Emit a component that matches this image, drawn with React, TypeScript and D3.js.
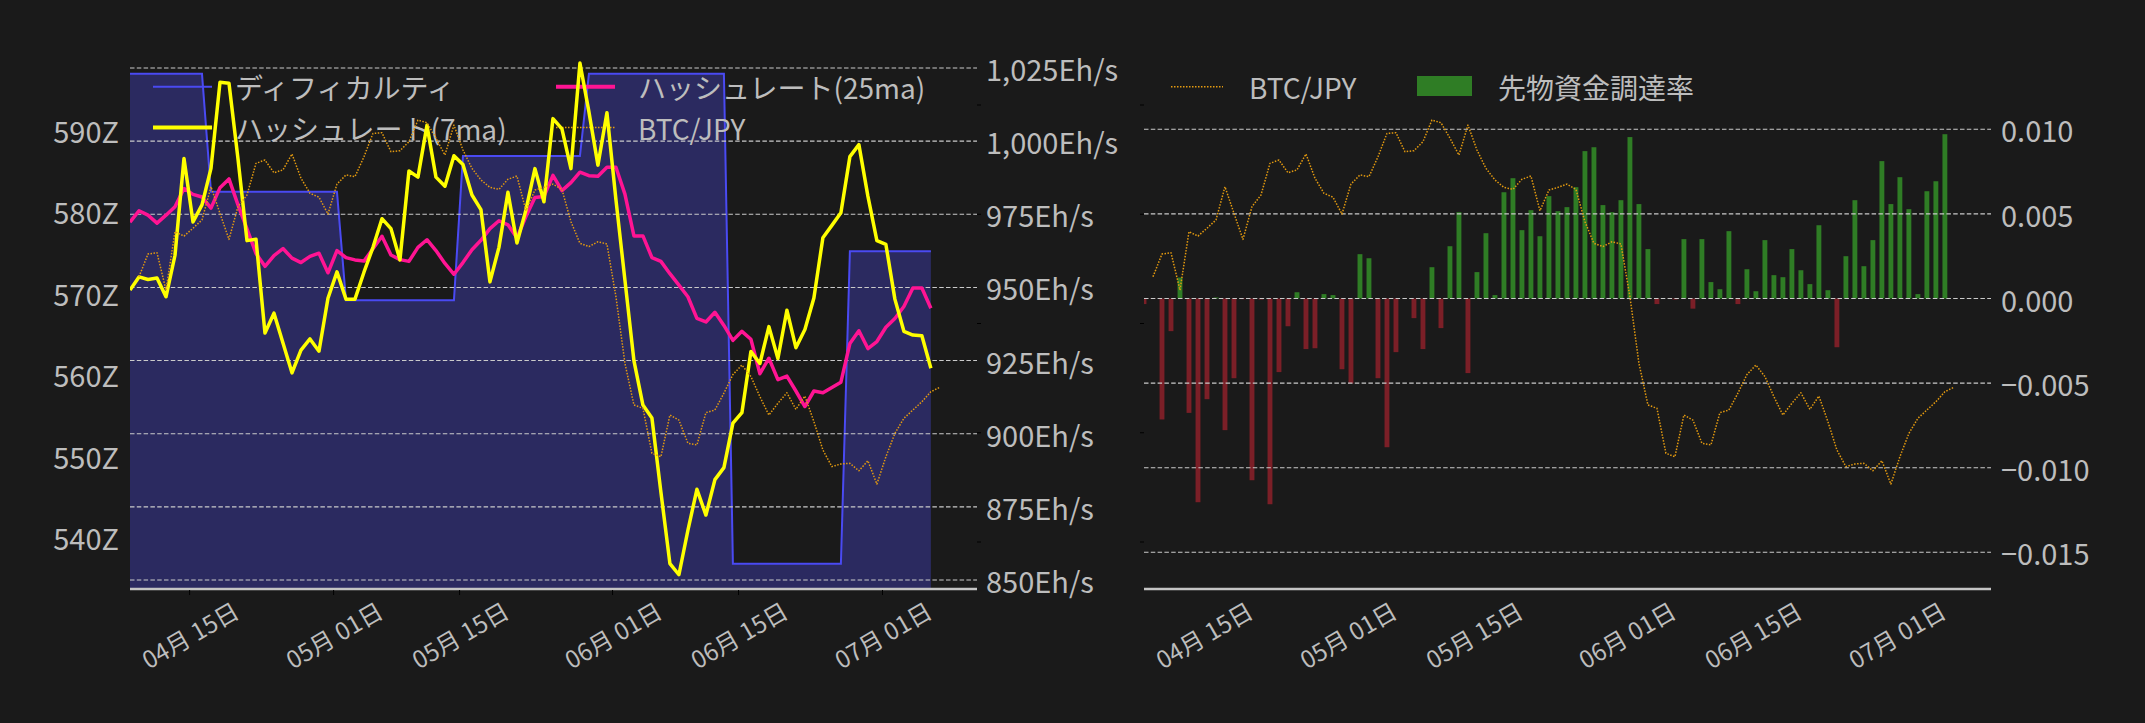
import React from "react";
import * as d3 from "d3";

// 日次データ 2025/04/08 09:00 起点（BTC/JPY は1日遅れで始まる）
const START = new Date(2025, 3, 8, 9);
const X_END = new Date(2025, 6, 11, 12);

// ディフィカルティ (Z)
const difficulty = [
  596.9, 596.9, 596.9, 596.9, 596.9, 596.9, 596.9, 596.9, 596.9,
  582.4, 582.4, 582.4, 582.4, 582.4, 582.4, 582.4, 582.4, 582.4, 582.4, 582.4, 582.4, 582.4, 582.4, 582.4,
  569.1, 569.1, 569.1, 569.1, 569.1, 569.1, 569.1, 569.1, 569.1, 569.1, 569.1, 569.1, 569.1,
  586.8, 586.8, 586.8, 586.8, 586.8, 586.8, 586.8, 586.8, 586.8, 586.8, 586.8, 586.8, 586.8, 586.8,
  596.9, 596.9, 596.9, 596.9, 596.9, 596.9, 596.9, 596.9, 596.9, 596.9, 596.9, 596.9, 596.9, 596.9, 596.9, 596.9,
  536.7, 536.7, 536.7, 536.7, 536.7, 536.7, 536.7, 536.7, 536.7, 536.7, 536.7, 536.7, 536.7,
  575.1, 575.1, 575.1, 575.1, 575.1, 575.1, 575.1, 575.1, 575.1, 575.1,
];

// ハッシュレート 7日移動平均 (Eh/s)
const hashrate7 = [
  949.1, 953.6, 952.7, 953.2, 946.8, 961.0, 994.1, 972.4, 978.2, 990.7,
  1020.1, 1019.8, 994.0, 966.0, 966.5, 934.4, 941.2, 931.0, 920.8, 928.6,
  932.4, 928.2, 946.3, 955.3, 946.0, 946.0, 955.2, 963.7, 973.5, 970.1,
  959.4, 989.8, 987.7, 1005.4, 987.7, 984.6, 995.0, 992.0, 981.6, 976.6,
  951.9, 963.7, 982.5, 965.2, 976.5, 990.6, 979.3, 1007.7, 1004.2, 990.6,
  1026.7, 1010.0, 991.8, 1009.7, 980.0, 952.5, 925.0, 909.8, 905.4, 880.0,
  855.6, 851.8, 867.0, 881.0, 872.2, 884.3, 888.4, 903.6, 907.2, 928.1,
  924.0, 936.6, 925.7, 942.2, 929.4, 935.6, 946.4, 967.0, 971.2, 975.5,
  994.7, 998.8, 981.2, 966.0, 964.7, 946.0, 935.0, 933.7, 933.5, 922.4,
];

// ハッシュレート 25日移動平均 (Eh/s)
const hashrate25 = [
  972.3, 976.2, 974.7, 972.0, 974.7, 977.6, 983.8, 981.8, 980.9, 977.1,
  984.1, 987.1, 978.2, 970.0, 961.6, 957.2, 960.9, 963.3, 960.0, 958.5,
  960.6, 961.7, 955.0, 962.6, 960.2, 959.4, 959.0, 963.2, 967.5, 961.1,
  959.5, 958.9, 963.7, 966.3, 962.6, 958.2, 954.5, 958.5, 962.9, 966.1,
  970.1, 972.8, 971.4, 967.0, 974.2, 980.7, 981.1, 988.3, 983.1, 985.8,
  989.4, 988.2, 988.0, 991.1, 991.1, 981.9, 967.6, 967.6, 960.2, 958.9,
  954.7, 950.8, 946.8, 939.4, 938.2, 941.5, 937.0, 931.9, 935.0, 932.3,
  920.5, 925.8, 918.5, 919.7, 914.6, 909.3, 914.6, 914.0, 915.8, 917.6,
  930.8, 935.2, 929.1, 931.5, 936.4, 939.4, 943.5, 949.8, 949.8, 942.9,
];

// BTC/JPY (万円, 目盛りは非表示)
const btcJpy = [
  1521.4, 1531.8, 1532.4, 1515.3, 1542.0, 1540.0, 1543.6, 1547.4, 1562.6, 1550.4,
  1538.5, 1553.5, 1558.8, 1573.3, 1574.8, 1569.0, 1570.3, 1577.6, 1566.5, 1559.6,
  1557.8, 1550.1, 1563.8, 1568.0, 1567.2, 1576.3, 1587.0, 1587.3, 1578.6, 1579.1,
  1583.2, 1593.1, 1591.9, 1584.8, 1577.1, 1590.8, 1579.4, 1571.0, 1565.7, 1562.3,
  1561.4, 1566.0, 1567.5, 1551.6, 1561.1, 1562.3, 1563.8, 1561.4, 1546.6, 1536.7,
  1535.2, 1537.4, 1536.4, 1512.3, 1481.8, 1462.7, 1461.2, 1440.6, 1439.0, 1458.1,
  1455.8, 1445.2, 1444.4, 1459.2, 1460.4, 1468.1, 1476.6, 1481.0, 1475.7, 1466.5,
  1458.1, 1463.5, 1468.3, 1460.7, 1466.8, 1455.1, 1442.1, 1434.5, 1435.7, 1436.0,
  1432.6, 1437.2, 1426.5, 1439.0, 1449.7, 1456.6, 1460.4, 1464.2, 1468.8, 1470.8,
];

// 先物資金調達率
const funding = [
  -0.00033, -0.00003, -0.00715, -0.00193, 0.00124, -0.00676, -0.01204, -0.00595, 0.00006, -0.00778,
  -0.00471, -0.00004, -0.01074, -0.00006, -0.01216, -0.00435, -0.00164, 0.00037, -0.00299, -0.00294,
  0.00026, 0.0002, -0.00418, -0.00502, 0.00262, 0.00238, -0.00471, -0.00879, -0.00317, 0.0,
  -0.00116, -0.00299, 0.00185, -0.00175, 0.00309, 0.0051, -0.00441, 0.00156, 0.00386, 0.0002,
  0.00628, 0.00711, 0.00404, 0.00522, 0.00368, 0.00605, 0.00516, 0.0054, 0.00658, 0.00871,
  0.00894, 0.00552, 0.0051, 0.00581, 0.00954, 0.00558, 0.00292, -0.00033, 0.0, -0.00006,
  0.00351, -0.0006, 0.00351, 0.00097, 0.00055, 0.00398, -0.00033, 0.00173, 0.00043, 0.00345,
  0.00138, 0.00126, 0.00292, 0.00167, 0.00085, 0.00433, 0.00049, -0.00288, 0.0025, 0.00581,
  0.00191, 0.00345, 0.00812, 0.00558, 0.00717, 0.00528, 0.00026, 0.00634, 0.00693, 0.00971,
];

const xTickDates = [
  new Date(2025, 3, 15), new Date(2025, 4, 1), new Date(2025, 4, 15),
  new Date(2025, 5, 1), new Date(2025, 5, 15), new Date(2025, 6, 1),
];
const diffTicks = [540, 550, 560, 570, 580, 590];
const hashTicks = [850, 875, 900, 925, 950, 975, 1000, 1025];
const btcTicks = [1400, 1450, 1500, 1550, 1600];
const fundTicks = [-0.015, -0.01, -0.005, 0, 0.005, 0.01];

const BG = "#1a1a1a";
const TXT = "#bdbdbd";
const GRID = "#cacaca";
const FONT = "'Noto Sans CJK JP', 'Noto Sans', sans-serif";
const C_DIFF = "#4a4af2";
const C_FILL = "#2b2a60";
const C_H7 = "#ffff00";
const C_H25 = "#ff1493";
const C_BTC = "#e39a10";
const C_UP = "#2f7d25";
const C_DN = "#7b1f27";

const L = { x0: 130, x1: 977 };
const R = { x0: 1144, x1: 1991 };
const BOTTOM = 589;

export default function App() {
  const dates = difficulty.map((_, i) => d3.timeDay.offset(START, i));
  const btcDates = btcJpy.map((_, i) => d3.timeDay.offset(START, i + 1));

  const xL = d3.scaleTime([START, X_END], [L.x0, L.x1]);
  const xR = d3.scaleTime([START, X_END], [R.x0, R.x1]);
  const yDiff = d3.scaleLinear([540, 590], [537, 130]);
  const yHash = d3.scaleLinear([850, 1025], [580, 68]);
  const yBtc = d3.scaleLinear([1400, 1600], [542, 105]);
  const yFund = d3.scaleLinear([-0.015, 0.01], [552.3, 129.3]);
  const fmtDate = d3.timeFormat("%m月 %d日");

  const diffArea = d3.area<number>()
    .x((_, i) => xL(dates[i]))
    .y0(BOTTOM)
    .y1((d) => yDiff(d))(difficulty);
  const diffLine = d3.line<number>()
    .x((_, i) => xL(dates[i]))
    .y((d) => yDiff(d))(difficulty);
  const h7Line = d3.line<number>().x((_, i) => xL(dates[i])).y((d) => yHash(d))(hashrate7);
  const h25Line = d3.line<number>().x((_, i) => xL(dates[i])).y((d) => yHash(d))(hashrate25);
  const btcLineL = d3.line<number>().x((_, i) => xL(btcDates[i])).y((d) => yBtc(d))(btcJpy);
  const btcLineR = d3.line<number>().x((_, i) => xR(btcDates[i])).y((d) => yBtc(d))(btcJpy);

  const barW = xR(d3.timeHour.offset(START, 13)) - xR(START);

  // 日付ラベル: 30度回転・中央揃え
  const xLabel = (x: number, d: Date, key: string) => (
    <g key={key} transform={`translate(${x},634)`}>
      <text transform="rotate(-30)" textAnchor="middle" dominantBaseline="central"
        fontSize={24} fill={TXT}>{fmtDate(d)}</text>
    </g>
  );

  return (
    <svg width={2145} height={723} style={{ position: "absolute", left: 0, top: 0 }}
      fontFamily={FONT}>
      <defs>
        <clipPath id="clipL"><rect x={L.x0} y={0} width={L.x1 - L.x0} height={BOTTOM} /></clipPath>
        <clipPath id="clipR"><rect x={R.x0} y={0} width={R.x1 - R.x0} height={BOTTOM} /></clipPath>
      </defs>
      <rect width={2145} height={723} fill={BG} />

      {/* ===== 左: ディフィカルティ / ハッシュレート ===== */}
      <g clipPath="url(#clipL)">
        <path d={diffArea || ""} fill={C_FILL} />
        <path d={diffLine || ""} fill="none" stroke={C_DIFF} strokeWidth={2} />
      </g>
      {hashTicks.map((t) => (
        <line key={"hg" + t} x1={L.x0} x2={L.x1} y1={yHash(t)} y2={yHash(t)}
          stroke={GRID} strokeWidth={1.1} strokeDasharray="4.5 2.3" />
      ))}

      {/* 凡例 */}
      <g fontSize={28} fill={TXT}>
        <line x1={153} x2={212} y1={86.7} y2={86.7} stroke={C_DIFF} strokeWidth={2} />
        <text x={235} y={86.7} dominantBaseline="central">ディフィカルティ</text>
        <line x1={153} x2={212} y1={127.5} y2={127.5} stroke={C_H7} strokeWidth={4} />
        <text x={235} y={127.5} dominantBaseline="central">ハッシュレート(7ma)</text>
        <line x1={556} x2={615} y1={86.7} y2={86.7} stroke={C_H25} strokeWidth={4} />
        <text x={638} y={86.7} dominantBaseline="central">ハッシュレート(25ma)</text>
        <line x1={556} x2={615} y1={127.5} y2={127.5} stroke={C_BTC} strokeWidth={1.5}
          strokeDasharray="1.5 1.5" />
        <text x={638} y={127.5} dominantBaseline="central">BTC/JPY</text>
      </g>

      <g clipPath="url(#clipL)" fill="none" strokeLinejoin="round">
        <path d={h25Line || ""} stroke={C_H25} strokeWidth={3.5} />
        <path d={h7Line || ""} stroke={C_H7} strokeWidth={3.5} />
        <path d={btcLineL || ""} stroke={C_BTC} strokeWidth={1.5} strokeDasharray="1.5 1.5" />
      </g>

      <line x1={L.x0} x2={L.x1} y1={BOTTOM} y2={BOTTOM} stroke="#c4c4c4" strokeWidth={2.5} />
      {xTickDates.map((d, i) => (
        <line key={"xt" + i} x1={xL(d)} x2={xL(d)} y1={BOTTOM + 1} y2={BOTTOM + 6} stroke="#000" />
      ))}
      {xTickDates.map((d, i) => xLabel(xL(d), d, "xl" + i))}
      {diffTicks.map((t) => (
        <text key={"dt" + t} x={119} y={yDiff(t)} textAnchor="end" dominantBaseline="central"
          fontSize={29} fill={TXT}>{`${t}Z`}</text>
      ))}
      {hashTicks.map((t) => (
        <text key={"ht" + t} x={986} y={yHash(t)} dominantBaseline="central"
          fontSize={29} fill={TXT}>{`${d3.format(",")(t)}Eh/s`}</text>
      ))}
      {btcTicks.map((t) => (
        <line key={"btL" + t} x1={L.x1} x2={L.x1 + 4} y1={yBtc(t)} y2={yBtc(t)} stroke="#000" />
      ))}

      {/* ===== 右: BTC/JPY / 先物資金調達率 ===== */}
      <g clipPath="url(#clipR)">
        {funding.map((v, i) => (
          <rect key={"b" + i} x={xR(dates[i]) - barW / 2} width={barW}
            y={Math.min(yFund(v), yFund(0))} height={Math.abs(yFund(v) - yFund(0))}
            fill={v >= 0 ? C_UP : C_DN} />
        ))}
      </g>
      {fundTicks.map((t) => (
        <line key={"fg" + t} x1={R.x0} x2={R.x1} y1={yFund(t)} y2={yFund(t)}
          stroke={GRID} strokeWidth={1.1} strokeDasharray="4.5 2.3" />
      ))}
      <g clipPath="url(#clipR)">
        <path d={btcLineR || ""} fill="none" stroke={C_BTC} strokeWidth={1.5}
          strokeDasharray="1.5 1.5" strokeLinejoin="round" />
      </g>
      <line x1={R.x0} x2={R.x1} y1={BOTTOM} y2={BOTTOM} stroke="#c4c4c4" strokeWidth={2.5} />
      {xTickDates.map((d, i) => xLabel(xR(d), d, "xr" + i))}
      {fundTicks.map((t) => (
        <text key={"ft" + t} x={2001} y={yFund(t)} dominantBaseline="central"
          fontSize={29} fill={TXT}>{d3.format(".3f")(t)}</text>
      ))}
      {btcTicks.map((t) => (
        <line key={"btR" + t} x1={R.x0 - 4} x2={R.x0} y1={yBtc(t)} y2={yBtc(t)} stroke="#000" />
      ))}

      <g fontSize={28} fill={TXT}>
        <line x1={1171} x2={1223} y1={86.7} y2={86.7} stroke={C_BTC} strokeWidth={1.5}
          strokeDasharray="1.5 1.5" />
        <text x={1249} y={86.7} dominantBaseline="central">BTC/JPY</text>
        <rect x={1417} y={76} width={55} height={20} fill={C_UP} />
        <text x={1498} y={86.7} dominantBaseline="central">先物資金調達率</text>
      </g>
    </svg>
  );
}
